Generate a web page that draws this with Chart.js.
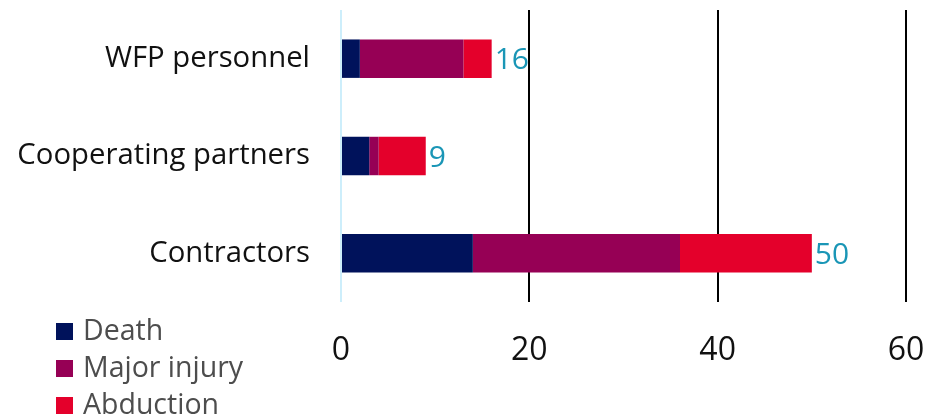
<!DOCTYPE html>
<html>
<head>
<meta charset="utf-8">
<script src="https://cdn.jsdelivr.net/npm/chart.js@4"></script>
<style>
  html, body { margin: 0; padding: 0; background: #fff; }
  #wrap { position: relative; width: 929px; height: 415px; }
  #legend { position: absolute; left: 56px; top: 311px; font-family: 'Open Sans', sans-serif; font-size: 28.5px; color: #4d4d4d; }
  #legend div { height: 37px; line-height: 37px; white-space: nowrap; }
  #legend span { display: inline-block; width: 17px; height: 17px; margin-right: 10px; vertical-align: 0px; }
</style>
</head>
<body>
<div id="wrap">
  <canvas id="barChart" width="929" height="415"></canvas>
  <div id="legend"></div>
</div>
<script>
const categories = ['WFP personnel', 'Cooperating partners', 'Contractors'];
const death = [2, 3, 14];
const majorInjury = [11, 1, 22];
const abduction = [3, 5, 14];
const xTicks = [0, 20, 40, 60];

const colors = { death: '#00125b', injury: '#960055', abduction: '#e4002b' };

// totals drawn at the end of each bar
const totalsPlugin = {
  id: 'totals',
  afterDatasetsDraw(chart) {
    const c = chart.ctx;
    const last = chart.getDatasetMeta(chart.data.datasets.length - 1);
    c.save();
    c.font = '30px "Open Sans"';
    c.fillStyle = '#1a96b6';
    c.textAlign = 'left';
    c.textBaseline = 'middle';
    categories.forEach((cat, i) => {
      const total = death[i] + majorInjury[i] + abduction[i];
      const bar = last.data[i];
      c.fillText(String(total), bar.x + 3, bar.y + 2);
    });
    c.restore();
  }
};

const ctx = document.getElementById('barChart').getContext('2d');
const chart = new Chart(ctx, {
  type: 'bar',
  data: {
    labels: categories,
    datasets: [
      { label: 'Death', data: death, backgroundColor: colors.death },
      { label: 'Major injury', data: majorInjury, backgroundColor: colors.injury },
      { label: 'Abduction', data: abduction, backgroundColor: colors.abduction }
    ]
  },
  options: {
    indexAxis: 'y',
    responsive: false,
    animation: false,
    barPercentage: 0.5,
    categoryPercentage: 0.79,
    layout: { padding: { top: 10, right: 23, left: 0, bottom: 0 } },
    scales: {
      x: {
        stacked: true,
        min: 0,
        max: 60,
        afterBuildTicks(scale) { scale.ticks = xTicks.map(v => ({ value: v })); },
        afterFit(scale) {
          scale.height = 113;
          scale.paddingLeft = 0;
          scale.paddingRight = 0;
        },
        border: { display: false },
        grid: {
          drawTicks: false,
          lineWidth: 2,
          color: c => (c.tick && c.tick.value === 0) ? '#cdeefb' : '#000'
        },
        ticks: {
          padding: 30,
          color: '#111',
          font: { family: 'Open Sans', size: 32 }
        }
      },
      y: {
        stacked: true,
        afterFit(scale) {
          scale.width = 341;
          scale.paddingTop = 0;
          scale.paddingBottom = 0;
        },
        border: { display: false },
        grid: { display: false, drawTicks: false },
        ticks: {
          padding: 31,
          color: '#111',
          font: { family: 'Open Sans', size: 29.3 }
        }
      }
    },
    plugins: {
      legend: { display: false },
      tooltip: { enabled: false }
    }
  },
  plugins: [totalsPlugin]
});

// html legend, stacked at bottom left
const legendEl = document.getElementById('legend');
chart.data.datasets.forEach(ds => {
  const row = document.createElement('div');
  const box = document.createElement('span');
  box.style.background = ds.backgroundColor;
  row.appendChild(box);
  row.appendChild(document.createTextNode(ds.label));
  legendEl.appendChild(row);
});
</script>
</body>
</html>
